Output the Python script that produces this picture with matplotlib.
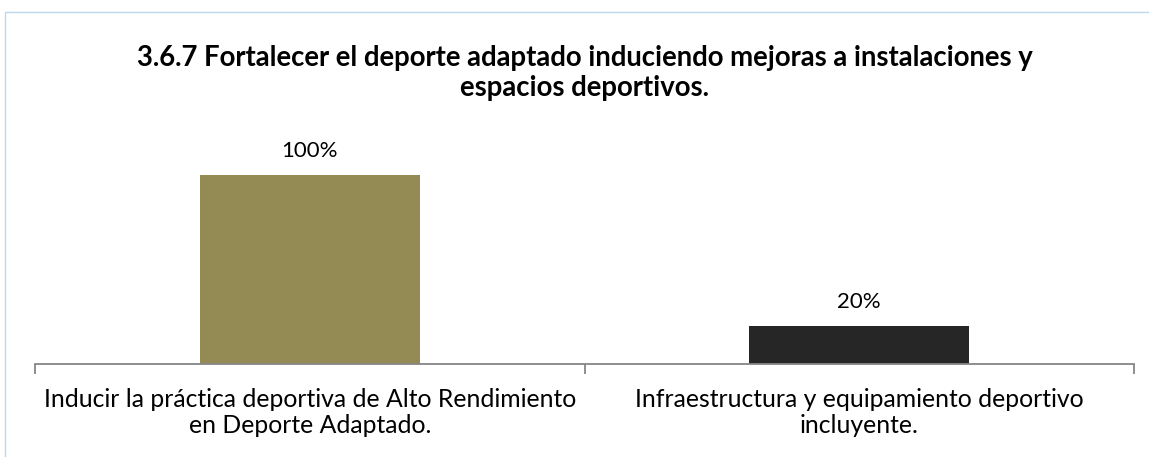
import numpy as np
import matplotlib.pyplot as plt
from matplotlib.patches import Rectangle

plt.rcParams['font.family'] = ['Lato', 'DejaVu Sans']

# data
categories = ["Inducir la práctica deportiva de Alto Rendimiento\nen Deporte Adaptado.",
              "Infraestructura y equipamiento deportivo\nincluyente."]
values = [1.00, 0.20]
value_labels = ["100%", "20%"]
bar_colors = ["#948A54", "#262626"]
title = ("3.6.7 Fortalecer el deporte adaptado induciendo mejoras a instalaciones y\n"
         "espacios deportivos.")

fig = plt.figure(figsize=(11.49, 4.57), dpi=100)

# light blue chart border (cropped on right/bottom)
fig.patches.append(Rectangle((5 / 1149, -0.2), 1.2, 1.2 - 12 / 457,
                             transform=fig.transFigure, fill=False,
                             edgecolor="#BDD7EE", linewidth=1.0))

ax = fig.add_axes([35 / 1149, 1 - 364 / 457, (1134 - 35) / 1149, 0.4965])

x = np.arange(len(values)) + 0.5
ax.bar(x, values, width=0.4, color=bar_colors)

for xi, v, lab in zip(x, values, value_labels):
    ax.annotate(lab, (xi, v), xytext=(0, 10), textcoords="offset points",
                ha="center", va="bottom", fontsize=16)

ax.set_xlim(0, 2)
ax.set_ylim(0, 1.2)
for s in ["top", "right", "left"]:
    ax.spines[s].set_visible(False)
ax.spines["bottom"].set_color("#868686")
ax.spines["bottom"].set_linewidth(1.3)
ax.set_yticks([])

ax.set_xticks([0, 1, 2])
ax.set_xticklabels([])
ax.tick_params(axis="x", length=7, width=1.3, color="#868686")
ax.set_xticks(x, minor=True)
ax.set_xticklabels(categories, minor=True, fontsize=17.8, linespacing=1.2)
ax.tick_params(axis="x", which="minor", length=0, pad=17)

fig.text(0.509, 1 - 73 / 457, title, ha="center", va="center",
         fontsize=19.8, fontweight="bold", linespacing=1.15)

fig.savefig("out.png", dpi=100)
